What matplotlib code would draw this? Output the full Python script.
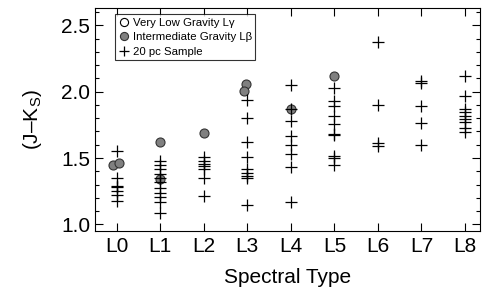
import numpy as np
import matplotlib
matplotlib.use("Agg")
import matplotlib.pyplot as plt

plt.rcParams["font.family"] = ["Liberation Sans", "DejaVu Sans"]
plt.rcParams["mathtext.fontset"] = "custom"
plt.rcParams["mathtext.rm"] = "Liberation Sans"

# spectral type labels
spt_labels = ["L0", "L1", "L2", "L3", "L4", "L5", "L6", "L7", "L8"]

# very low gravity (none visible in the figure)
vlg_spt = []
vlg_jk = []

# intermediate gravity
intg_spt = [-0.08, 0.06, 1.0, 1.0, 2.0, 2.97, 2.93, 4.0, 5.0]
intg_jk = [1.447, 1.46, 1.62, 1.34, 1.69, 2.06, 2.005, 1.866, 2.116]

# 20 pc sample
pc_spt = ([0] * 7 + [1] * 11 + [2] * 7 + [3] * 9 + [4] * 8 + [5] * 10
          + [6] * 4 + [7] * 5 + [8] * 9)
pc_jk = [1.55, 1.35, 1.29, 1.28, 1.25, 1.22, 1.18,
         1.48, 1.447, 1.417, 1.38, 1.346, 1.316, 1.278, 1.24, 1.207, 1.17, 1.083,
         1.51, 1.48, 1.455, 1.44, 1.417, 1.346, 1.214,
         1.934, 1.80, 1.62, 1.51, 1.417, 1.39, 1.366, 1.346, 1.146,
         2.05, 1.866, 1.778, 1.664, 1.60, 1.53, 1.43, 1.17,
         2.03, 1.926, 1.89, 1.82, 1.758, 1.68, 1.67, 1.517, 1.50, 1.45,
         2.376, 1.896, 1.61, 1.593,
         2.08, 2.066, 1.89, 1.765, 1.60,
         2.12, 1.967, 1.87, 1.85, 1.82, 1.795, 1.77, 1.73, 1.695]

fig = plt.figure(figsize=(4.85, 2.97), dpi=100)
ax = fig.add_axes([0.196, 0.222, 0.794, 0.751])

ax.plot(vlg_spt, vlg_jk, "o", mfc="white", mec="black", ms=6.5, mew=0.8,
        label="Very Low Gravity L\u03b3")
ax.plot(intg_spt, intg_jk, "o", mfc="#808080", mec="#333333", ms=6.5, mew=0.8,
        label="Intermediate Gravity L\u03b2")
ax.plot(pc_spt, pc_jk, "+", color="black", ms=8, mew=0.9,
        label="20 pc Sample")

ax.set_xlim(-0.5, 8.35)
ax.set_ylim(0.95, 2.63)
ax.set_xticks(range(len(spt_labels)))
ax.set_xticklabels(spt_labels)
ax.set_yticks([1.0, 1.5, 2.0, 2.5])
ax.set_yticks(np.arange(1.0, 2.61, 0.1), minor=True)
ax.tick_params(which="both", direction="in", top=True, right=True, labelsize=15)
ax.tick_params(which="major", length=6, width=0.8)
ax.tick_params(which="minor", length=3, width=0.8)
ax.tick_params(axis="x", pad=4)
ax.set_xlabel("Spectral Type", fontsize=15, labelpad=9)
ax.set_ylabel("(J\u2013K$_\\mathregular{S}$)", fontsize=15, labelpad=12)

leg = ax.legend(loc="upper left", bbox_to_anchor=(0.052, 0.972), borderaxespad=0,
                fontsize=8.2, frameon=True, fancybox=False,
                edgecolor="black", handletextpad=0.25, borderpad=0.3,
                labelspacing=0.4, handlelength=1.0,
                numpoints=1, markerscale=0.9)
leg.get_frame().set_linewidth(0.8)

fig.savefig("out.png", dpi=100)
